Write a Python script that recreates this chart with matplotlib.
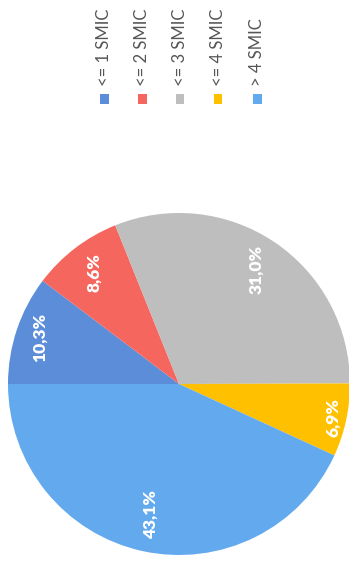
import matplotlib
matplotlib.use("Agg")
import matplotlib.pyplot as plt
from matplotlib.patches import Rectangle
import numpy as np

categories = ["<= 1 SMIC", "<= 2 SMIC", "<= 3 SMIC", "<= 4 SMIC", "> 4 SMIC"]
shares = [10.3, 8.6, 31.0, 6.9, 43.1]
colors = ["#5B8DD8", "#F4665E", "#BEBEBE", "#FFC000", "#63A9EE"]
label_radius = [0.86, 0.82, 0.81, 0.92, 0.78]

W, H = 349, 571
fig = plt.figure(figsize=(W / 100, H / 100), dpi=100)

# pie axes: centre (179, 384) px, radius 171 px
cx, cy, r = 179, 384, 171
ax = fig.add_axes([(cx - r) / W, (H - cy - r) / H, 2 * r / W, 2 * r / H])
wedges, _ = ax.pie(shares, colors=colors, startangle=180, counterclock=False,
                   wedgeprops=dict(linewidth=0))
ax.set_xlim(-1, 1)
ax.set_ylim(-1, 1)
ax.set_aspect("equal")
ax.axis("off")

for w, val, rad in zip(wedges, shares, label_radius):
    mid = np.deg2rad((w.theta1 + w.theta2) / 2)
    ax.text(rad * np.cos(mid), rad * np.sin(mid),
            f"{val:.1f}%".replace(".", ","), rotation=90,
            ha="center", va="center", color="white",
            fontsize=12.5, fontweight="heavy", family=["Lato", "DejaVu Sans"])

# legend, rotated with the chart
leg_x = [104, 142, 180, 218, 257]
for x, name, col in zip(leg_x, categories, colors):
    s = 9
    fig.patches.append(Rectangle(((x - s / 2) / W, (H - 99 - s / 2) / H), s / W, s / H,
                                 transform=fig.transFigure, color=col, linewidth=0))
    fig.text(x / W, (H - 86) / H, name, rotation=90, ha="center", va="bottom",
             color="#555555", fontsize=12, family=["Lato", "DejaVu Sans"])

fig.savefig("out.png", dpi=100, facecolor="white")
